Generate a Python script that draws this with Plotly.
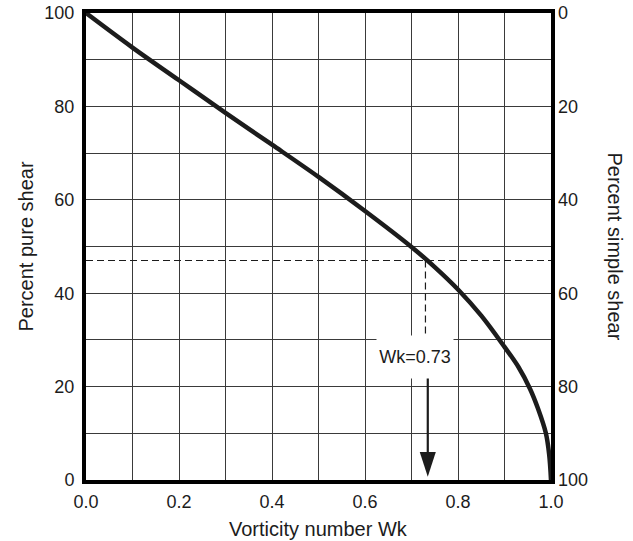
import plotly.graph_objects as go

# Data
wk = [0.0, 0.1, 0.2, 0.3, 0.4, 0.5, 0.6, 0.7, 0.75, 0.8, 0.85, 0.9, 0.93, 0.955, 0.972, 0.989, 0.996, 1.0]
pure_shear = [100, 92.6, 85.6, 78.6, 71.8, 64.9, 57.6, 49.9, 45.6, 40.8, 35.2, 28.5, 24.2, 19.5, 15.3, 10.0, 5.5, 0]

wk_marker = 0.73
pure_marker = 47.0
dash_bottom = 30.0
arrow_x = 0.735
arrow_top = 23.3
arrow_tip = 0.7
label_text = "Wk=0.73"
label_pos = (0.707, 26.3)

x_ticks = [round(i * 0.1, 1) for i in range(11)]
x_ticktext = [f"{v:.1f}" if i % 2 == 0 else "" for i, v in enumerate(x_ticks)]
y_ticks = list(range(0, 101, 10))
y_ticktext = [str(v) if v % 20 == 0 else "" for v in y_ticks]
y2_ticks = list(range(0, 101, 20))

font = "Liberation Sans, Arial, sans-serif"
ink = "#1c1c1c"
grid = "#3a3a3a"

fig = go.Figure()

# dashed reference lines
fig.add_trace(go.Scatter(x=[0, 1], y=[pure_marker, pure_marker], mode="lines",
                         line=dict(color=ink, width=1.2, dash="7px,4px"), hoverinfo="skip"))
fig.add_trace(go.Scatter(x=[wk_marker, wk_marker], y=[pure_marker, dash_bottom], mode="lines",
                         line=dict(color=ink, width=1.2, dash="7px,4px"), hoverinfo="skip"))

# main curve
fig.add_trace(go.Scatter(x=wk, y=pure_shear, mode="lines",
                         line=dict(color=ink, width=4.5, shape="spline", smoothing=1.0)))

# arrow shaft + head
fig.add_trace(go.Scatter(x=[arrow_x, arrow_x], y=[arrow_top, arrow_tip + 5], mode="lines",
                         line=dict(color=ink, width=2.2), hoverinfo="skip"))
fig.add_trace(go.Scatter(x=[arrow_x], y=[arrow_tip], mode="markers",
                         marker=dict(symbol="arrow", angle=180, size=26, color=ink,
                                     line=dict(width=0)), hoverinfo="skip"))

# invisible trace for right axis
fig.add_trace(go.Scatter(x=[0, 1], y=[0, 100], yaxis="y2", mode="markers",
                         marker=dict(opacity=0), hoverinfo="skip"))

fig.add_annotation(x=label_pos[0], y=label_pos[1], text=label_text, showarrow=False,
                   font=dict(family=font, size=18, color=ink), bgcolor="white",
                   width=76, height=42, borderpad=0)

title_font = dict(family=font, size=20, color=ink)
fig.add_annotation(x=1.0, xref="paper", xshift=64, y=0.5, yref="paper", text="Percent simple shear",
                   textangle=90, showarrow=False, font=title_font, xanchor="center", yanchor="middle")
fig.add_annotation(x=0.0, xref="paper", xshift=-61, y=0.5, yref="paper", text="Percent pure shear",
                   textangle=-90, showarrow=False, font=title_font, xanchor="center", yanchor="middle")
fig.add_annotation(x=0.5, xref="paper", y=0.0, yref="paper", yshift=-49, text="Vorticity number Wk",
                   showarrow=False, font=title_font, xanchor="center", yanchor="middle")

fig.update_layout(
    width=633, height=541,
    margin=dict(l=86, r=82, t=13, b=61),
    plot_bgcolor="white", paper_bgcolor="white",
    showlegend=False,
    font=dict(family=font, size=18, color=ink),
    xaxis=dict(range=[0, 1], tickvals=x_ticks, ticktext=x_ticktext, showgrid=True,
               gridcolor=grid, gridwidth=1.3, zeroline=False, showline=True, mirror=True,
               linecolor="black", linewidth=4, ticks="", tickfont=dict(size=18),
               ticklabelstandoff=2, automargin=False),
    yaxis=dict(range=[0, 100], tickvals=y_ticks, ticktext=y_ticktext, showgrid=True,
               gridcolor=grid, gridwidth=1.3, zeroline=False, showline=True, mirror=True,
               linecolor="black", linewidth=4, ticks="", tickfont=dict(size=18),
               ticklabelstandoff=4, automargin=False),
    yaxis2=dict(range=[100, 0], tickvals=y2_ticks, overlaying="y", side="right", showgrid=False,
                zeroline=False, showline=False, ticks="", tickfont=dict(size=18),
                ticklabelstandoff=6, automargin=False),
)

fig.write_html("out.html", config={"displayModeBar": False},
               post_script="document.body.style.margin='0px';")
